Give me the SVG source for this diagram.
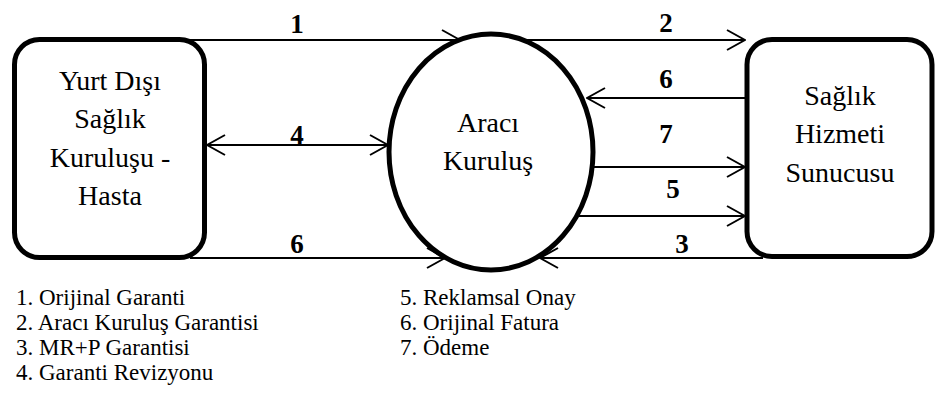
<svg xmlns="http://www.w3.org/2000/svg" width="937" height="403" viewBox="0 0 937 403">
<style>
.node{fill:#fff;stroke:#000;stroke-width:5}
.conn line{stroke:#000;stroke-width:2;fill:none}
.t{font-size:28px;text-anchor:middle}
.n{font-size:27px;font-weight:bold;text-anchor:middle}
</style>
<defs>
<marker id="ah" viewBox="0 0 20 24" refX="19" refY="12" markerWidth="20" markerHeight="24" markerUnits="userSpaceOnUse" orient="auto-start-reverse">
<path d="M1,2 L19,12 L1,22" fill="none" stroke="#000" stroke-width="2"/>
</marker>
</defs>
<rect width="937" height="403" fill="#fff"/>
<g id="connectors" class="conn">
<line x1="190" y1="40" x2="460" y2="40" marker-end="url(#ah)"/>
<line x1="525" y1="40" x2="745" y2="40" marker-end="url(#ah)"/>
<line x1="745" y1="98" x2="587" y2="98" marker-end="url(#ah)"/>
<line x1="207" y1="145" x2="388" y2="145" marker-start="url(#ah)" marker-end="url(#ah)"/>
<line x1="590" y1="167" x2="745" y2="167" marker-end="url(#ah)"/>
<line x1="575" y1="216" x2="745" y2="216" marker-end="url(#ah)"/>
<line x1="763" y1="258" x2="540" y2="258" marker-end="url(#ah)"/>
<line x1="190" y1="258" x2="445" y2="258" marker-end="url(#ah)"/>
</g>
<g id="labels" font-family="Liberation Serif, Times New Roman, serif">
<text class="n" x="297" y="33">1</text>
<text class="n" x="666" y="32">2</text>
<text class="n" x="666" y="88">6</text>
<text class="n" x="297" y="144">4</text>
<text class="n" x="666" y="143">7</text>
<text class="n" x="673" y="198">5</text>
<text class="n" x="682" y="253">3</text>
<text class="n" x="297" y="253">6</text>
</g>
<g id="yurtdisi">
<rect class="node" x="14.5" y="39.5" width="190" height="218" rx="25"/>
<g font-family="Liberation Serif, Times New Roman, serif">
<text class="t" x="110" y="90">Yurt Dışı</text>
<text class="t" x="110" y="128">Sağlık</text>
<text class="t" x="110" y="167">Kuruluşu -</text>
<text class="t" x="110" y="205">Hasta</text>
</g>
</g>
<g id="araci">
<ellipse class="node" cx="491" cy="152" rx="102" ry="118"/>
<g font-family="Liberation Serif, Times New Roman, serif">
<text class="t" x="488" y="132">Aracı</text>
<text class="t" x="488" y="170">Kuruluş</text>
</g>
</g>
<g id="saglik">
<rect class="node" x="747" y="39.5" width="185" height="217" rx="25"/>
<g font-family="Liberation Serif, Times New Roman, serif">
<text class="t" x="840" y="105">Sağlık</text>
<text class="t" x="840" y="143">Hizmeti</text>
<text class="t" x="840" y="182">Sunucusu</text>
</g>
</g>
<g id="legend" font-family="Liberation Serif, Times New Roman, serif" font-size="23">
<text x="16" y="305">1. Orijinal Garanti</text>
<text x="16" y="330">2. Aracı Kuruluş Garantisi</text>
<text x="16" y="355">3. MR+P Garantisi</text>
<text x="16" y="380">4. Garanti Revizyonu</text>
<text x="400" y="305">5. Reklamsal Onay</text>
<text x="400" y="330">6. Orijinal Fatura</text>
<text x="400" y="355">7. Ödeme</text>
</g>
</svg>
